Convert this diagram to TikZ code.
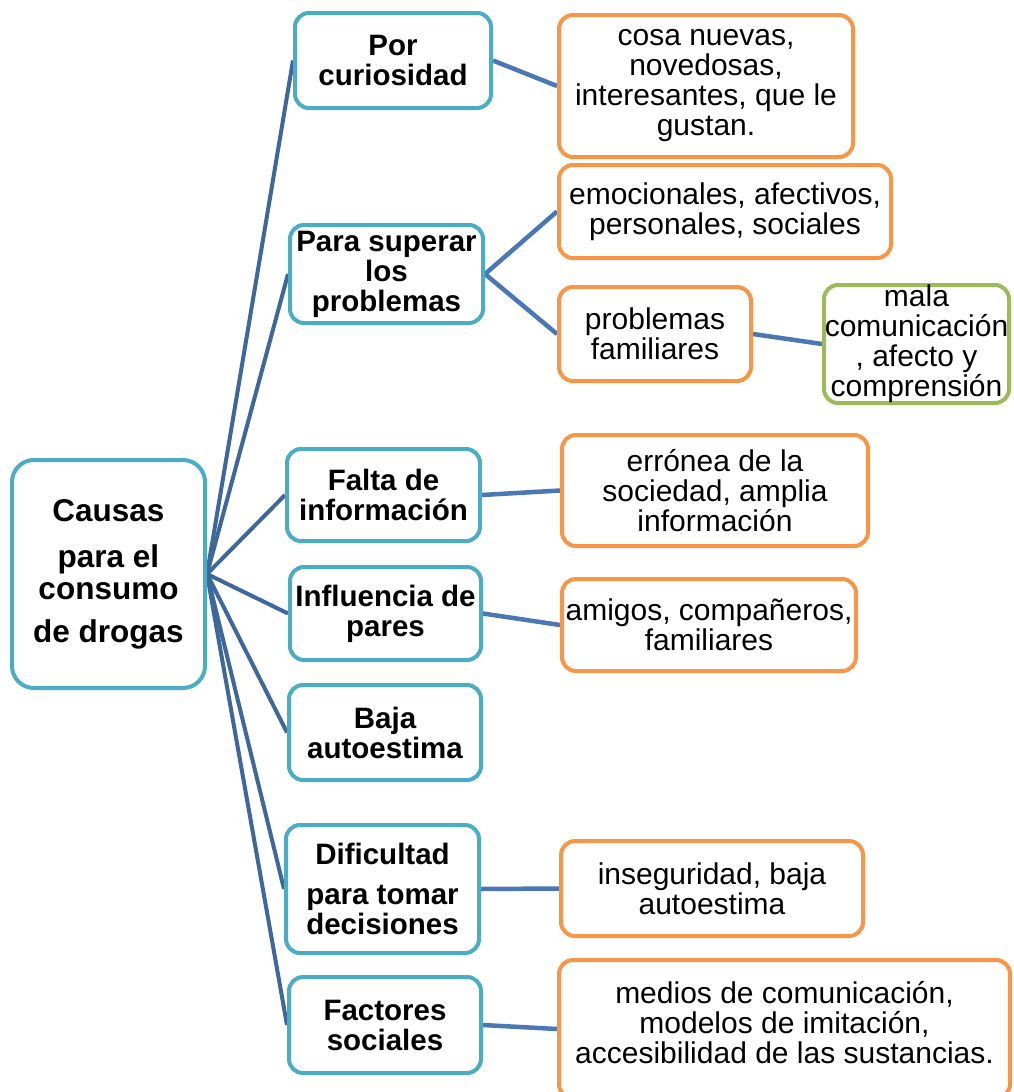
\documentclass[tikz,border=0pt]{standalone}
\usepackage{fontspec}
\setmainfont{Liberation Sans}
\usetikzlibrary{backgrounds}
\definecolor{bluebd}{HTML}{4BACC6}
\definecolor{orangebd}{HTML}{F79646}
\definecolor{greenbd}{HTML}{9BBB59}
\definecolor{rootln}{HTML}{3E679C}
\definecolor{subln}{HTML}{4A78B5}
\begin{document}
\begin{tikzpicture}[x=1pt,y=-1pt,
  box/.style={draw, line width=4pt, rounded corners=14pt, fill=white, inner sep=0pt, align=center, font=\fontsize{30}{30}\selectfont},
  bluebox/.style={box, draw=bluebd, font=\fontsize{29.5}{30}\selectfont\bfseries},
  rootbox/.style={box, draw=bluebd, rounded corners=22pt, font=\fontsize{31.5}{32}\selectfont\bfseries},
  orangebox/.style={box, draw=orangebd},
  greenbox/.style={box, draw=greenbd},
  rootline/.style={draw=rootln, line width=4pt},
  subline/.style={draw=subln, line width=4.5pt}]
\useasboundingbox (0,0) rectangle (1013,1092);

% root
\node[rootbox, minimum width=193pt, minimum height=228pt] (root) at (108.5,574)
  {Causas\\[14pt]para el\\consumo\\[11pt]de drogas};

% level 1
\node[bluebox, minimum width=196pt, minimum height=95pt] (b1) at (393,60.5) {Por\\curiosidad};
\node[bluebox, minimum width=193pt, minimum height=98pt] (b2) at (386.5,274) {Para superar\\los\\problemas};
\node[bluebox, minimum width=193pt, minimum height=92pt] (b3) at (383.5,495) {Falta de\\información};
\node[bluebox, minimum width=191pt, minimum height=93pt] (b4) at (385.5,613.5) {Influencia de\\pares};
\node[bluebox, minimum width=192pt, minimum height=95pt] (b5) at (385,732.5) {Baja\\autoestima};
\node[bluebox, minimum width=193pt, minimum height=128pt] (b6) at (382.5,889) {Dificultad\\[10pt]para tomar\\decisiones};
\node[bluebox, minimum width=192pt, minimum height=96pt] (b7) at (385,1025) {Factores\\sociales};

% level 2
\node[orangebox, minimum width=294pt, minimum height=142pt] (o1) at (706,86)
  {cosa nuevas,\\novedosas,\\interesantes, que le\\gustan.};
\node[orangebox, minimum width=332pt, minimum height=93pt] (o2) at (725,211.5)
  {emocionales, afectivos,\\personales, sociales};
\node[orangebox, minimum width=192pt, minimum height=94pt] (o3) at (655,334)
  {problemas\\familiares};
\node[greenbox, minimum width=185pt, minimum height=118pt] (g1) at (916.5,344)
  {mala\\comunicación\\, afecto y\\comprensión};
\node[orangebox, minimum width=306pt, minimum height=111pt] (o4) at (715,490.5)
  {errónea de la\\sociedad, amplia\\información};
\node[orangebox, minimum width=294pt, minimum height=92pt] (o5) at (709,625)
  {amigos, compañeros,\\familiares};
\node[orangebox, minimum width=302pt, minimum height=95pt] (o6) at (712,888.5)
  {inseguridad, baja\\autoestima};
\node[orangebox, minimum width=451pt, minimum height=138pt, text depth=14pt] (o7) at (784.5,1029)
  {medios de comunicación,\\modelos de imitación,\\accesibilidad de las sustancias.};

\begin{pgfonlayer}{background}
\fill[white] (0,0) rectangle (1013,1092);
\foreach \b in {b1,b2,b3,b4,b5,b6,b7}
  \draw[rootline] (root.east) -- (\b.west);
\draw[subline] (b1.east) -- (o1.west);
\draw[subline] (b2.east) -- (o2.west);
\draw[subline] (b2.east) -- (o3.west);
\draw[subline] (o3.east) -- (g1.west);
\draw[subline] (b3.east) -- (o4.west);
\draw[subline] (b4.east) -- (o5.west);
\draw[subline] (b6.east) -- (o6.west);
\draw[subline] (b7.east) -- (o7.west);
\end{pgfonlayer}
\end{tikzpicture}
\end{document}
